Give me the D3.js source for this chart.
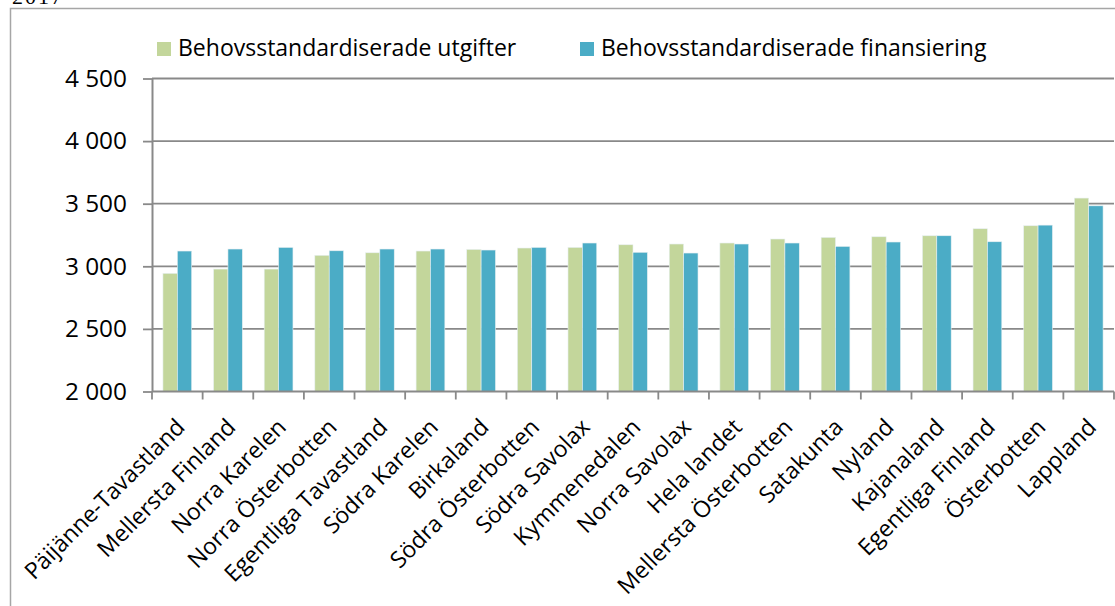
<!DOCTYPE html>
<html>
<head>
<meta charset="utf-8">
<script src="https://cdn.jsdelivr.net/npm/d3@7"></script>
<style>
  body { margin: 0; background: #fff; }
  text { font-family: "Open Sans", sans-serif; fill: #000; }
</style>
</head>
<body>
<div id="chart"></div>
<script>
// data
const regions = ["Päijänne-Tavastland", "Mellersta Finland", "Norra Karelen", "Norra Österbotten",
                 "Egentliga Tavastland", "Södra Karelen", "Birkaland", "Södra Österbotten",
                 "Södra Savolax", "Kymmenedalen", "Norra Savolax", "Hela landet",
                 "Mellersta Österbotten", "Satakunta", "Nyland", "Kajanaland",
                 "Egentliga Finland", "Österbotten", "Lappland"];
const utgifter = [2944, 2978, 2978, 3088, 3108, 3122, 3135, 3146, 3151, 3172,
                  3178, 3186, 3218, 3231, 3236, 3244, 3300, 3324, 3545];
const finansiering = [3122, 3138, 3151, 3124, 3138, 3138, 3130, 3151, 3186, 3112,
                      3106, 3178, 3186, 3159, 3194, 3244, 3196, 3329, 3483];
const seriesNames = ["Behovsstandardiserade utgifter", "Behovsstandardiserade finansiering"];
const yTicks = [2000, 2500, 3000, 3500, 4000, 4500];

const colors = d3.scaleOrdinal()
                 .domain(seriesNames)
                 .range(["#c3d69b", "#4bacc6"]);

const W = 1115, H = 606;
const margin = ({top: 78.5, right: 1, bottom: 214.5, left: 152});
const width = W - margin.left - margin.right,
      height = H - margin.top - margin.bottom;

const root = d3.select("#chart")
               .append("svg")
               .attr("width", W)
               .attr("height", H);

// cut off title remnant and outer frame
root.append("text")
    .attr("x", 12)
    .attr("y", 4)
    .style("font-family", "'Liberation Serif', serif")
    .style("font-size", "22px")
    .style("letter-spacing", "2px")
    .text("2017");
root.append("path")
    .attr("d", "M10.5," + H + "V8.5H" + W)
    .attr("fill", "none")
    .attr("stroke", "#a6a6a6")
    .attr("stroke-width", 1.5);

const svg = root.append("g")
                .attr("transform", "translate(" + margin.left + "," + margin.top + ")");

const rows = regions.map((r, i) => ({region: r, values: [utgifter[i], finansiering[i]]}));

const x0 = d3.scaleBand()
             .domain(regions)
             .range([0, width])
             .padding(0);
const x1 = d3.scaleBand()
             .domain(seriesNames)
             .range([0, x0.bandwidth()])
             .paddingInner(0)
             .paddingOuter(0.76);
const y = d3.scaleLinear()
            .domain([2000, 4500])
            .range([height, 0]);

const fmt = d3.formatLocale({decimal: ",", thousands: " ", grouping: [3], currency: ["", ""]}).format(",");

// gridlines
svg.append("g")
   .attr("class", "grid")
   .selectAll("line")
   .data(yTicks.slice(1))
   .enter()
   .append("line")
   .attr("x1", 0)
   .attr("x2", width)
   .attr("y1", d => y(d))
   .attr("y2", d => y(d))
   .attr("stroke", "#898989")
   .attr("stroke-width", 1.8);

// bars
const groups = svg.selectAll(".grp")
                  .data(rows)
                  .enter()
                  .append("g")
                  .attr("class", "grp")
                  .attr("transform", d => "translate(" + x0(d.region) + ",0)");
groups.selectAll("rect")
      .data(d => d.values.map((v, k) => ({name: seriesNames[k], value: v})))
      .enter()
      .append("rect")
      .attr("x", d => x1(d.name))
      .attr("width", x1.bandwidth())
      .attr("y", d => y(d.value))
      .attr("height", d => height - y(d.value))
      .attr("fill", d => colors(d.name))
      .attr("stroke", "#e8f0f2")
      .attr("stroke-width", 0.6);

// y axis
const yAxis = svg.append("g")
                 .call(d3.axisLeft(y).tickValues(yTicks).tickFormat(fmt).tickSize(9).tickSizeOuter(0).tickPadding(16));
yAxis.select(".domain").attr("stroke", "#898989").attr("stroke-width", 2);
yAxis.selectAll(".tick line").attr("stroke", "#898989").attr("stroke-width", 1.8);
yAxis.selectAll(".tick text")
     .style("font-family", "'Open Sans', sans-serif")
     .style("font-size", "24.4px")
     .attr("fill", "#000");

// x axis with ticks on category boundaries
const xAxis = svg.append("g")
                 .attr("transform", "translate(0," + height + ")");
xAxis.append("line")
     .attr("x1", 0)
     .attr("x2", width)
     .attr("stroke", "#898989")
     .attr("stroke-width", 2);
xAxis.selectAll(".tk")
     .data(regions.concat(["end"]))
     .enter()
     .append("line")
     .attr("class", "tk")
     .attr("x1", (d, i) => i < regions.length ? x0(d) : width)
     .attr("x2", (d, i) => i < regions.length ? x0(d) : width)
     .attr("y1", 0)
     .attr("y2", 8)
     .attr("stroke", "#898989")
     .attr("stroke-width", 1.8);
xAxis.selectAll(".lbl")
     .data(regions)
     .enter()
     .append("text")
     .attr("class", "lbl")
     .attr("text-anchor", "end")
     .attr("transform", d => "translate(" + (x0(d) + x0.bandwidth() / 2 + 9) + ",37) rotate(-45)")
     .style("font-size", "23px")
     .text(d => d);

// legend
const legend = root.append("g")
                   .attr("class", "legend");
const legendX = [157, 580];
seriesNames.forEach(function(name, k) {
    legend.append("rect")
          .attr("x", legendX[k])
          .attr("y", 42)
          .attr("width", 14)
          .attr("height", 14)
          .attr("fill", colors(name));
    legend.append("text")
          .attr("x", legendX[k] + 21)
          .attr("y", 56)
          .style("font-size", "23px")
          .text(name);
});
</script>
</body>
</html>
